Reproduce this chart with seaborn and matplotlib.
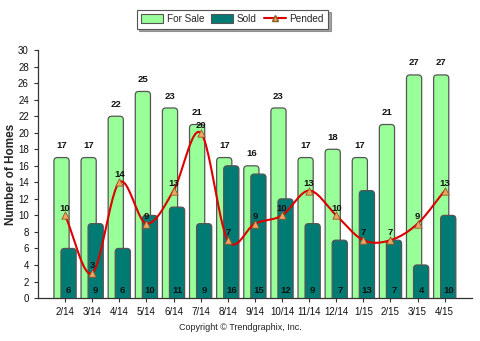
import numpy as np
import pandas as pd
import matplotlib
matplotlib.use("Agg")
import matplotlib.pyplot as plt
import seaborn as sns
from matplotlib.patches import FancyBboxPatch, Rectangle
from matplotlib.lines import Line2D

months = ["2/14", "3/14", "4/14", "5/14", "6/14", "7/14", "8/14", "9/14",
          "10/14", "11/14", "12/14", "1/15", "2/15", "3/15", "4/15"]
for_sale = [17, 17, 22, 25, 23, 21, 17, 16, 23, 17, 18, 17, 21, 27, 27]
sold = [6, 9, 6, 10, 11, 9, 16, 15, 12, 9, 7, 13, 7, 4, 10]
pended = [10, 3, 14, 9, 13, 20, 7, 9, 10, 13, 10, 7, 7, 9, 13]

sns.set_style("white")
plt.rcParams['font.family'] = ['Liberation Sans', 'DejaVu Sans']

fig = plt.figure(figsize=(4.8, 3.41), dpi=100)
ax = fig.add_axes([0.079, 0.126, 0.904, 0.727])

df_fs = pd.DataFrame({"month": months, "value": for_sale})
df_sd = pd.DataFrame({"month": months, "value": sold})

FS_COLOR = "#99FF99"
SD_COLOR = "#007B73"
EDGE = "#555555"
BW = 0.56
OFF = 0.13

sns.barplot(data=df_fs, x="month", y="value", color=FS_COLOR, width=BW,
            saturation=1, ax=ax, order=months)
n_fs = len(ax.patches)
sns.barplot(data=df_sd, x="month", y="value", color=SD_COLOR, width=BW,
            saturation=1, ax=ax, order=months)

ax.set_xlim(-1, 15)
ax.set_ylim(0, 30)

# replace bars by rounded ones
patches = list(ax.patches)
rx = 0.13
ry_per_x = (30 / (0.727 * 341)) / (16 / (0.904 * 480))
for i, p in enumerate(patches):
    x0 = p.get_x()
    w = p.get_width()
    h = p.get_height()
    if i < n_fs:
        x0 -= OFF
        fc, z = FS_COLOR, 2
    else:
        x0 += OFF
        fc, z = SD_COLOR, 3
    p.remove()
    fb = FancyBboxPatch((x0, -1.0), w, h + 1.0,
                        boxstyle=f"round,pad=0,rounding_size={rx}",
                        mutation_aspect=ry_per_x,
                        facecolor=fc, edgecolor=EDGE, linewidth=0.9, zorder=z)
    ax.add_patch(fb)

# value labels
for i, v in enumerate(for_sale):
    ax.text(i - OFF, v + 0.9, str(v), ha="center", va="bottom",
            fontsize=6.8, fontweight="bold", color="#111111", zorder=6)
for i, v in enumerate(sold):
    ax.text(i + OFF, 0.35, str(v), ha="center", va="bottom",
            fontsize=6.8, fontweight="bold", color="#111111", zorder=6)

# smooth pended curve (Catmull-Rom through the data points)
xs = np.arange(len(pended), dtype=float)
ys = np.array(pended, dtype=float)
px = np.concatenate([[2 * xs[0] - xs[1]], xs, [2 * xs[-1] - xs[-2]]])
py = np.concatenate([[2 * ys[0] - ys[1]], ys, [2 * ys[-1] - ys[-2]]])
cx, cy = [], []
t = np.linspace(0, 1, 25)
for k in range(1, len(px) - 2):
    p0, p1, p2, p3 = py[k - 1], py[k], py[k + 1], py[k + 2]
    q0, q1, q2, q3 = px[k - 1], px[k], px[k + 1], px[k + 2]
    def cr(a0, a1, a2, a3):
        return 0.5 * ((2 * a1) + (-a0 + a2) * t + (2 * a0 - 5 * a1 + 4 * a2 - a3) * t ** 2
                      + (-a0 + 3 * a1 - 3 * a2 + a3) * t ** 3)
    cx.extend(cr(q0, q1, q2, q3))
    cy.extend(cr(p0, p1, p2, p3))
sns.lineplot(x=cx, y=cy, color="#DD0000", linewidth=1.5, ax=ax, zorder=7,
             sort=False, estimator=None)
sns.scatterplot(x=xs, y=ys, marker="^", s=28, color="#F4A460",
                edgecolor="#8B5A2B", linewidth=0.6, ax=ax, zorder=8)
for i, v in enumerate(pended):
    ax.text(i, v + 0.35, str(v), ha="center", va="bottom",
            fontsize=6.8, fontweight="bold", color="#111111", zorder=9)

# axes styling
for s in ["top", "right"]:
    ax.spines[s].set_visible(False)
for s in ["left", "bottom"]:
    ax.spines[s].set_color("#333333")
    ax.spines[s].set_linewidth(0.9)
ax.set_yticks(range(0, 31, 2))
ax.tick_params(axis="both", direction="out", length=3, width=0.8,
               colors="#333333", labelsize=7, labelcolor="#111111",
               bottom=True, left=True)
ax.set_xticks(range(len(months)))
ax.set_xticklabels(months)
ax.set_xlabel("")
ax.set_ylabel("Number of Homes", fontsize=8.5, fontweight="bold")
ax.yaxis.set_label_coords(-0.049, 0.5)
ax.grid(False)

# legend
handles = [
    Rectangle((0, 0), 1, 1, facecolor=FS_COLOR, edgecolor=EDGE, linewidth=0.8),
    Rectangle((0, 0), 1, 1, facecolor=SD_COLOR, edgecolor=EDGE, linewidth=0.8),
    Line2D([0], [0], color="#DD0000", linewidth=1.5, marker="^",
           markerfacecolor="#F4A460", markeredgecolor="#8B5A2B", markersize=4),
]
leg = fig.legend(handles, ["For Sale", "Sold", "Pended"], loc="center",
                 bbox_to_anchor=(0.484, 0.944), ncol=3, fontsize=7.2,
                 frameon=True, fancybox=False, shadow=True,
                 handlelength=2.2, handleheight=0.9, columnspacing=0.7,
                 handletextpad=0.35, borderpad=0.45, borderaxespad=0.3)
leg.get_frame().set_edgecolor("#555555")
leg.get_frame().set_linewidth(0.8)

fig.text(0.5, 0.04, "Copyright \u00a9 Trendgraphix, Inc.", ha="center",
         va="center", fontsize=6.5, color="#222222")

fig.savefig("out.png", dpi=100)
